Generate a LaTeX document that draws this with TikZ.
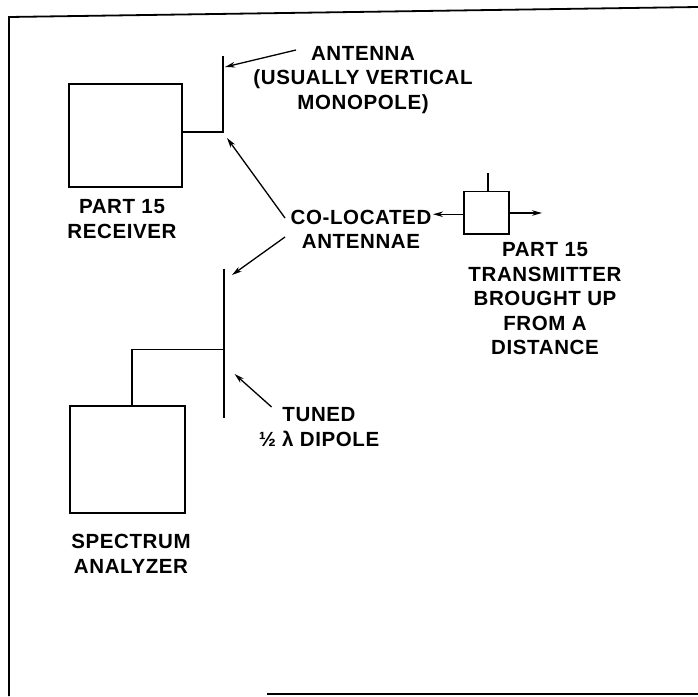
\documentclass[tikz,border=0pt]{standalone}
\usepackage{fontspec}
\setmainfont{Liberation Sans}[LetterSpace=3]
\usetikzlibrary{arrows.meta}
\begin{document}
\begin{tikzpicture}[x=1pt,y=-1pt,line width=1.3pt,
    >={Stealth[length=10pt,width=5.5pt]},
    box/.style={draw,inner sep=0pt},
    lbl/.style={font=\fontsize{20.5}{24.5}\selectfont\bfseries,align=center,inner sep=1pt}]
  \useasboundingbox (0,0) rectangle (698,696);
  % frame
  \draw[line width=1.8pt] (698,7) -- (9,17) -- (9,696);
  \draw[line width=1.8pt] (267,694) -- (698,694);
  % receiver with monopole
  \node[box,minimum width=113pt,minimum height=103pt] (rx) at (125.5,135.5) {};
  \node[lbl] (rxlbl) at (122,219) {PART 15\\RECEIVER};
  \coordinate (rxfeed) at (223,132);
  \coordinate (rxtip) at (223,56);
  \draw (rx.east |- rxfeed) -- (rxfeed) -- (rxtip);
  \node[lbl] (antlbl) at (363,80) {ANTENNA\\(USUALLY VERTICAL\\MONOPOLE)};
  \coordinate (anttail) at (296,50);
  \coordinate (anthead) at (225,67);
  \draw[->] (anttail) -- (anthead);
  % co-located antennae
  \node[lbl] (colo) at (361,229.5) {CO-LOCATED\\ANTENNAE};
  \coordinate (coltail1) at (285,218);
  \coordinate (colhead1) at (227,138);
  \coordinate (coltail2) at (285,237);
  \coordinate (colhead2) at (232,275);
  \draw[->] (coltail1) -- (colhead1);
  \draw[->] (coltail2) -- (colhead2);
  % transmitter
  \node[box,minimum width=45pt,minimum height=42.5pt] (tx) at (486.5,212.75) {};
  \draw ([xshift=1.5pt]tx.north) -- ++(0,-18);
  \draw[->] ([yshift=-1.5pt]tx.west) -- ([yshift=-1.5pt]tx.west -| colo.east);
  \coordinate (txout) at (542,213);
  \draw[->] (tx.east |- txout) -- (txout);
  \node[lbl] (txlbl) at (545,299) {PART 15\\TRANSMITTER\\BROUGHT UP\\FROM A\\DISTANCE};
  % analyzer with dipole
  \node[box,minimum width=115pt,minimum height=107pt] (sa) at (127.5,459.5) {};
  \node[lbl] (salbl) at (131,554) {SPECTRUM\\ANALYZER};
  \coordinate (dptop) at (224,268.5);
  \coordinate (dpbot) at (224,417.5);
  \coordinate (dpfeed) at (224,349.5);
  \draw (dptop) -- (dpbot);
  \draw (dpfeed) -| ([xshift=4.5pt]sa.north);
  \node[lbl] (tunlbl) at (319,427) {TUNED\\½ λ DIPOLE};
  \coordinate (tuntail) at (271.6,407);
  \coordinate (tunhead) at (234.6,374);
  \draw[->] (tuntail) -- (tunhead);
\end{tikzpicture}
\end{document}
